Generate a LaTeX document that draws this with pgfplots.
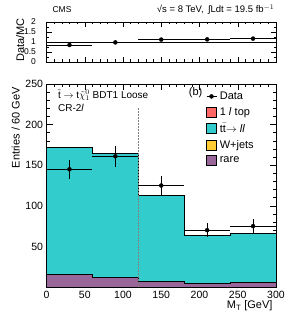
\documentclass[border=0pt]{standalone}
\usepackage{pgfplots}
\pgfplotsset{compat=1.18}
\usepackage{fontspec}
\setmainfont{Liberation Sans}
\definecolor{ttll}{RGB}{51,204,204}
\definecolor{rarec}{RGB}{153,102,153}
\definecolor{onel}{RGB}{255,102,102}
\definecolor{wjets}{RGB}{255,204,51}
\begin{document}
\begin{tikzpicture}
\useasboundingbox (-46.5pt,-41pt) rectangle (244.5pt,287pt);
\pgfplotsset{
  every axis/.append style={
    scale only axis, width=229.5pt,
    xmin=0, xmax=300,
    tick align=inside,
    xtick pos=both, ytick pos=both,
    major tick length=6pt, minor tick length=3pt,
    tick style={black, line width=0.5pt},
    tick label style={font=\fontsize{10.5}{12}\selectfont},
    /pgf/number format/assume math mode=true,
    axis line style={line width=0.6pt},
    clip=false,
  }
}
\begin{axis}[name=main, at={(0,0)}, anchor=south west,
  height=203pt, ymin=0, ymax=250,
  xtick={0,50,...,300}, ytick={50,100,...,250},
  minor xtick={10,20,...,290}, minor ytick={10,20,...,240},
  xticklabel style={yshift=-1pt},
  legend style={at={(rel axis cs:0.695,0.972)}, anchor=north west, draw=none, fill=none,
    font=\fontsize{11}{11}\selectfont, row sep=2.6pt, inner sep=0pt, column sep=1pt},
  legend cell align=left,
]
\addlegendimage{black, mark=*, mark size=2pt, legend image code/.code={
  \draw[black, line width=0.6pt] (0pt,0pt) -- (10pt,0pt);
  \fill[black] (5pt,0pt) circle (2pt);}}
\addlegendentry{Data}
\addlegendimage{legend image code/.code={\draw[black, fill=onel, line width=0.5pt] (0pt,-5pt) rectangle (10pt,5pt);}}
\addlegendentry{1 \textit{l} top}
\addlegendimage{legend image code/.code={\draw[black, fill=ttll, line width=0.5pt] (0pt,-5pt) rectangle (10pt,5pt);}}
\addlegendentry{t$\bar{\mathrm{t}}$$\rightarrow$ \textit{ll}}
\addlegendimage{legend image code/.code={\draw[black, fill=wjets, line width=0.5pt] (0pt,-5pt) rectangle (10pt,5pt);}}
\addlegendentry{W+jets}
\addlegendimage{legend image code/.code={\draw[black, fill=rarec, line width=0.5pt] (0pt,-5pt) rectangle (10pt,5pt);}}
\addlegendentry{rare}
\addplot[forget plot, const plot, fill=ttll, draw=black, line width=0.8pt]
  coordinates {(0,172)(60,165)(120,113)(180,63)(240,66)(300,66)} \closedcycle;
\addplot[forget plot, const plot, fill=rarec, draw=black, line width=0.8pt]
  coordinates {(0,15)(60,12)(120,7)(180,4.5)(240,6)(300,6)} \closedcycle;
\addplot[forget plot, densely dotted, gray, line width=0.5pt] coordinates {(120,0)(120,220)};
\addplot[forget plot, only marks, mark=*, mark size=2pt, black,
  error bars/.cd, x dir=both, x explicit, y dir=both, y explicit,
  error bar style={line width=0.6pt}, error mark=none]
  coordinates {(30,145) +- (30,12) (90,161) +- (30,12.7) (150,125) +- (30,11.2)
               (210,70) +- (30,8.4) (270,75) +- (30,8.7)};
\node[anchor=base west, font=\fontsize{10}{10}\selectfont] at (rel axis cs:0.035,0.93)
  {$\tilde{\mathrm{t}}\rightarrow\mathrm{t}\tilde{\chi}^{0}_{1}$ BDT1 Loose};
\node[anchor=base west, font=\fontsize{10}{10}\selectfont] at (rel axis cs:0.035,0.865)
  {CR-2\textit{l}};
\node[anchor=base, font=\fontsize{11}{11}\selectfont] at (rel axis cs:0.65,0.945) {(b)};
\end{axis}
\node[rotate=90, anchor=base east, font=\fontsize{11}{11}\selectfont] at (-27pt,203pt) {Entries / 60 GeV};
\node[anchor=base east, font=\fontsize{11}{11}\selectfont] at (229.5pt,-22pt) {M$_{\mathrm{T}}$ [GeV]};
\begin{axis}[name=ratio, at={(0,225pt)}, anchor=south west,
  height=40pt, ymin=0, ymax=2,
  xtick={0,50,...,300}, xticklabels={},
  minor xtick={10,20,...,290},
  ytick={0,0.5,1,1.5,2}, minor ytick={0.25,0.75,1.25,1.75},
  major tick length=5pt, minor tick length=2.5pt,
  yticklabel style={font=\fontsize{8.5}{9}\selectfont, xshift=-7pt},
]
\addplot[black, line width=0.6pt] coordinates {(0,1)(300,1)};
\addplot[only marks, mark=*, mark size=2pt, black,
  error bars/.cd, x dir=both, x explicit,
  error bar style={line width=0.6pt}, error mark=none]
  coordinates {(30,0.85) +- (30,0) (90,0.98) +- (30,0) (150,1.12) +- (30,0)
               (210,1.13) +- (30,0) (270,1.17) +- (30,0)};
\end{axis}
\node[rotate=90, anchor=base west, font=\fontsize{11}{11}\selectfont] at (-22.5pt,222pt) {Data/MC};
\node[anchor=base west, font=\fontsize{8.5}{9}\selectfont] at (2.5pt,274pt) {CMS};
\node[anchor=base east, font=\fontsize{9.5}{10}\selectfont] at (231.5pt,274pt) {√s = 8 TeV,\, ∫Ldt = 19.5 fb$^{-1}$};
\end{tikzpicture}
\end{document}
